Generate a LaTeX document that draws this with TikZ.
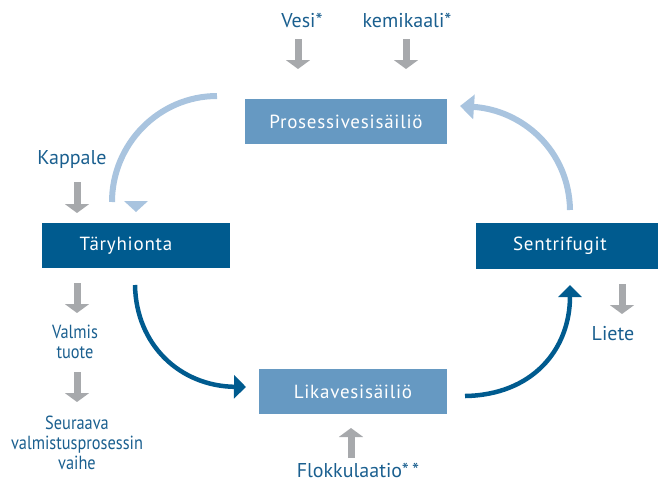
\documentclass[tikz,border=0pt]{standalone}
\usepackage{fontspec}
\setmainfont{PT Sans}
\newfontfamily\narrowfont[FakeStretch=0.86]{PT Sans}
\newfontfamily\boxfont[LetterSpace=4]{PT Sans}
\usetikzlibrary{arrows.meta}
\definecolor{dkblue}{HTML}{005B8F}
\definecolor{ltbox}{HTML}{6699C2}
\definecolor{txtblue}{HTML}{1A5F8F}
\definecolor{grayarr}{HTML}{A7A9AC}
\definecolor{ltarc}{HTML}{A9C4DF}
\begin{document}
\begin{tikzpicture}[x=1pt,y=-1pt,
  box/.style={draw=none, inner sep=0pt, text=white, font=\boxfont\fontsize{19}{22}\selectfont},
  darkbox/.style={box, fill=dkblue},
  lightbox/.style={box, fill=ltbox},
  lbl/.style={text=txtblue, font=\fontsize{20}{22}\selectfont, inner sep=0pt, align=center},
  nlbl/.style={text=txtblue, font=\narrowfont\fontsize{19}{20}\selectfont, inner sep=0pt, align=center},
  grayarrow/.style={draw=grayarr, line width=7pt, -{Triangle[width=24pt,length=9pt]}},
  ltarrow/.style={draw=ltarc, line width=6pt},
  dkarrow/.style={draw=dkblue, line width=4.5pt, -{Triangle[width=23pt,length=12pt]}}
]
\useasboundingbox (0,0) rectangle (660,485);

% boxes
\node[lightbox, minimum width=202pt, minimum height=45pt] (pv) at (346,121.5) {Prosessivesisäiliö};
\node[darkbox, minimum width=188pt, minimum height=45pt] (th) at (136,245.5) {Täryhionta\kern20pt};
\node[darkbox, minimum width=182pt, minimum height=46pt] (se) at (567,246) {Sentrifugit\kern14pt};
\node[lightbox, minimum width=188pt, minimum height=45pt] (lv) at (353,391.5) {Likavesisäiliö};

% labels
\node[lbl] (vesi) at (302,20) {Vesi*};
\node[lbl] (kem) at (407,20) {kemikaali*};
\node[lbl] (kap) at (72,159) {Kappale};
\node[nlbl] (valmis) at (75,342) {Valmis\\tuote};
\node[nlbl] (seur) at (77,443) {Seuraava\\valmistusprosessin\\vaihe};
\node[lbl] (liete) at (613,334) {Liete};
\node[lbl] (flok) at (358,470) {Flokkulaatio*\,*};

% gray arrows
\coordinate (g1a) at (298,39); \coordinate (g1b) at (298,69);
\coordinate (g2a) at (406,39); \coordinate (g2b) at (406,69);
\coordinate (g3a) at (77,182); \coordinate (g3b) at (77,213);
\coordinate (g4a) at (77,283); \coordinate (g4b) at (77,313);
\coordinate (g5a) at (77,372); \coordinate (g5b) at (77,402);
\coordinate (g6a) at (622,284); \coordinate (g6b) at (622,314);
\coordinate (g7a) at (351,458); \coordinate (g7b) at (351,428);
\draw[grayarrow] (g1a) -- (g1b);
\draw[grayarrow] (g2a) -- (g2b);
\draw[grayarrow] (g3a) -- (g3b);
\draw[grayarrow] (g4a) -- (g4b);
\draw[grayarrow] (g5a) -- (g5b);
\draw[grayarrow] (g6a) -- (g6b);
\draw[grayarrow] (g7a) -- (g7b);

% light blue return arcs
\coordinate (la1) at (217,96); \coordinate (la2) at (112,202);
\draw[ltarrow] (la1) .. controls (159,96) and (112,144) .. (la2);
\coordinate (lt) at (136,212);
\fill[ltarc] (124,201) -- (148,201) -- (lt) -- cycle;

\coordinate (ra1) at (570,210); \coordinate (ra2) at (460,106);
\draw[ltarrow, -{Triangle[width=24pt,length=14pt]}] (ra1) .. controls (569,150) and (522,110) .. (ra2);

% dark blue arcs
\coordinate (da1) at (135,285); \coordinate (da2) at (246,387);
\draw[dkarrow] (da1) .. controls (136,345) and (180,386) .. (da2);
\coordinate (db1) at (465,396); \coordinate (db2) at (570,285);
\draw[dkarrow] (db1) .. controls (532,395) and (570,350) .. (db2);
\end{tikzpicture}
\end{document}
